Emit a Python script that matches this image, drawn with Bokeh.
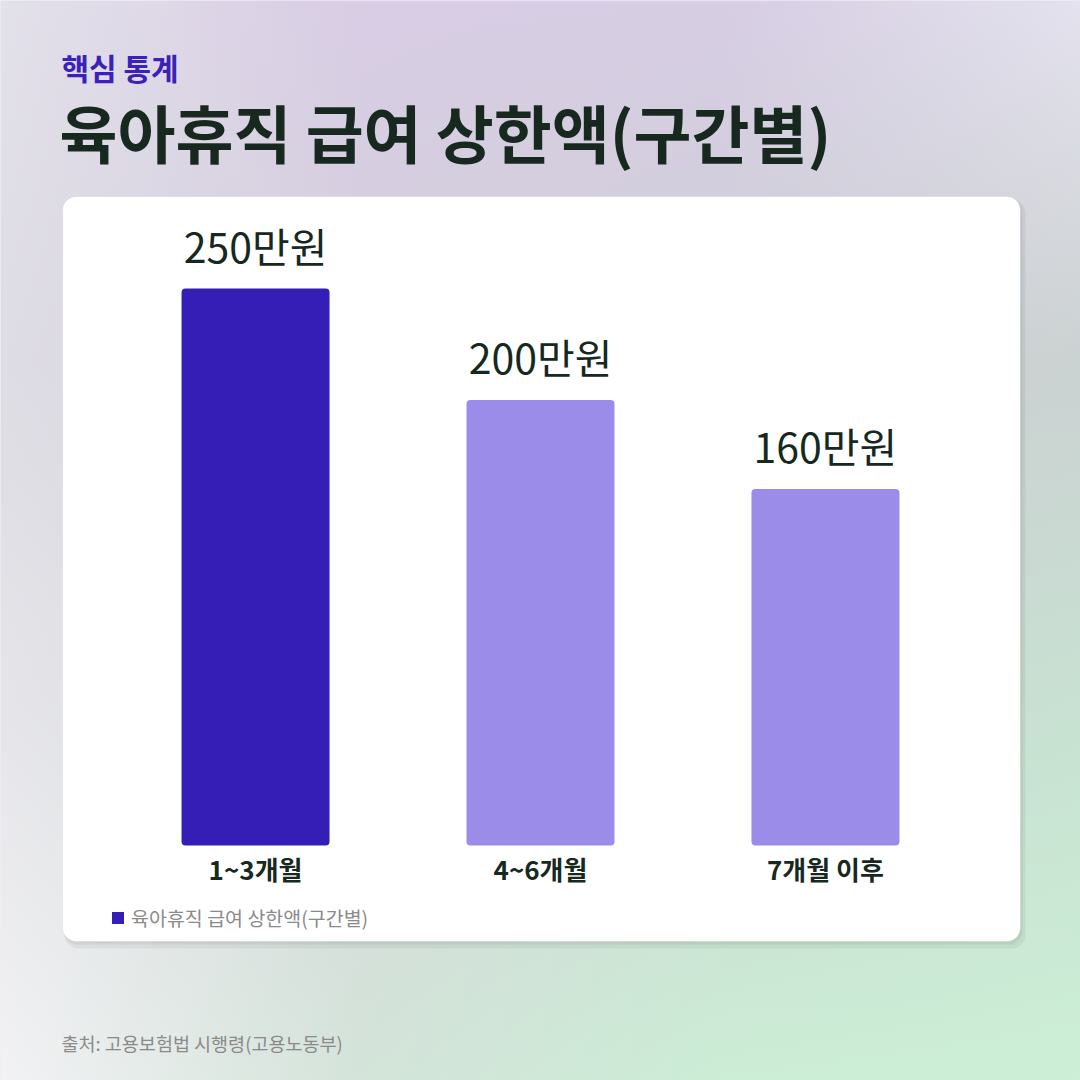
from bokeh.plotting import figure
from bokeh.models import Range1d, FactorRange, LinearScale, Label, Legend, LegendItem
from bokeh.core.properties import value
from bokeh.embed import file_html
from bokeh.resources import INLINE
import numpy as np

# data
categories = ["1~3개월", "4~6개월", "7개월 이후"]
caps = [250, 200, 160]
cap_labels = ["250만원", "200만원", "160만원"]
bar_colors = ["#341EB6", "#9B8CEA", "#9B8CEA"]
series_name = "육아휴직 급여 상한액(구간별)"

FONT = value("Noto Sans CJK KR")
DARK = "#17291F"
SIZE = 1080

# layout is worked out in design pixels (px from left, py from top)
HALF_PAD = 0.395                      # factor units of padding each side
PPU = SIZE / (len(categories) + 2 * HALF_PAD)   # pixels per category


def X(px):
    return -HALF_PAD + px / PPU


def Y(py):
    return SIZE - py


p = figure(width=SIZE, height=SIZE,
           x_range=FactorRange(factors=categories, range_padding=HALF_PAD,
                               range_padding_units="absolute"),
           y_range=Range1d(0, SIZE),
           toolbar_location=None, output_backend="svg", min_border=0)
p.axis.visible = False
p.grid.visible = False
p.outline_line_color = None
p.background_fill_color = "#E0DDE6"
p.border_fill_color = "#E0DDE6"

# value axis: 0 at py=845, 250 at py=288
px_per_val = (845 - 288) / 250
p.extra_y_ranges = {"val": Range1d((845 - SIZE) / px_per_val, 845 / px_per_val)}
p.extra_y_scales = {"val": LinearScale()}

# background gradient (rows listed top -> bottom)
grid = [["#E3E1EA", "#D9CDE5", "#D7CDE4", "#E4E2EE"],
        ["#DEDCE4", "#D4D0DC", "#CFD0D6", "#CCD2D2"],
        ["#E6E6EA", "#D6DADA", "#CCDCD2", "#C8E2D2"],
        ["#F2F2F4", "#D4E4DA", "#CCEDD6", "#CDEFD7"]]
g = np.array([[[int(c[i:i + 2], 16) for i in (1, 3, 5)] for c in row] for row in grid], float)
n = 135
t = np.linspace(0, 3, n)
i0 = np.minimum(t.astype(int), 2)
f = t - i0
fy = f[:, None, None]
fx = f[None, :, None]
c00 = g[i0][:, i0]
c01 = g[i0][:, i0 + 1]
c10 = g[i0 + 1][:, i0]
c11 = g[i0 + 1][:, i0 + 1]
img = (c00 * (1 - fx) + c01 * fx) * (1 - fy) + (c10 * (1 - fx) + c11 * fx) * fy
img = img[::-1]
rgba = np.empty((n, n), dtype=np.uint32)
view = rgba.view(dtype=np.uint8).reshape((n, n, 4))
view[..., :3] = img.astype(np.uint8)
view[..., 3] = 255
p.image_rgba(image=[rgba], x=X(0), y=0, dw=SIZE / PPU, dh=SIZE)

# card with soft shadow
p.quad(left=X(64), right=X(1025), top=Y(199), bottom=Y(948), fill_color="#000000", fill_alpha=0.05,
       line_color=None, border_radius=14)
p.quad(left=X(63), right=X(1022), top=Y(198), bottom=Y(944), fill_color="#000000", fill_alpha=0.05,
       line_color=None, border_radius=14)
p.quad(left=X(62), right=X(1020), top=Y(196), bottom=Y(941), fill_color="white",
       line_color="#000000", line_alpha=0.05, border_radius=14)

# bars
bars = p.vbar(x=categories, top=caps, bottom=0, width=148 / PPU, fill_color=bar_colors,
              line_color=None, border_radius=4, y_range_name="val")

# value labels above bars
p.text(x=categories, y=caps, text=cap_labels, y_range_name="val",
       text_align="center", text_baseline="middle", y_offset=-44,
       text_font=FONT, text_font_size="41px", text_color=DARK)

# category labels under bars
p.text(x=categories, y=[0] * len(categories), text=categories, y_range_name="val",
       text_align="center", text_baseline="middle", y_offset=23,
       text_font=FONT, text_font_size="26px", text_font_style="bold", text_color=DARK)

# legend
legend = Legend(items=[LegendItem(label=series_name, renderers=[bars], index=0)],
                location=(110, 148), orientation="horizontal",
                padding=0, margin=0, spacing=0, label_standoff=6,
                glyph_width=15, glyph_height=15, label_height=20,
                background_fill_alpha=0, border_line_color=None,
                label_text_font="Noto Sans CJK KR", label_text_font_size="19.5px",
                label_text_color="#8A8A8A")
p.add_layout(legend)

# titles and source
p.add_layout(Label(x=X(61), y=Y(66), text="핵심 통계", text_font="Noto Sans CJK KR",
                   text_font_size="30px", text_font_style="bold", text_color="#3A22B8",
                   text_baseline="middle"))
p.add_layout(Label(x=X(59), y=Y(130), text="육아휴직 급여 상한액(구간별)", text_font="Noto Sans CJK KR",
                   text_font_size="63px", text_font_style="bold", text_color=DARK,
                   text_baseline="middle"))
p.add_layout(Label(x=X(61), y=Y(1042), text="출처: 고용보험법 시행령(고용노동부)", text_font="Noto Sans CJK KR",
                   text_font_size="18.5px", text_color="#8A8A8A", text_baseline="middle"))

open("out.html", "w").write(file_html(p, INLINE))
